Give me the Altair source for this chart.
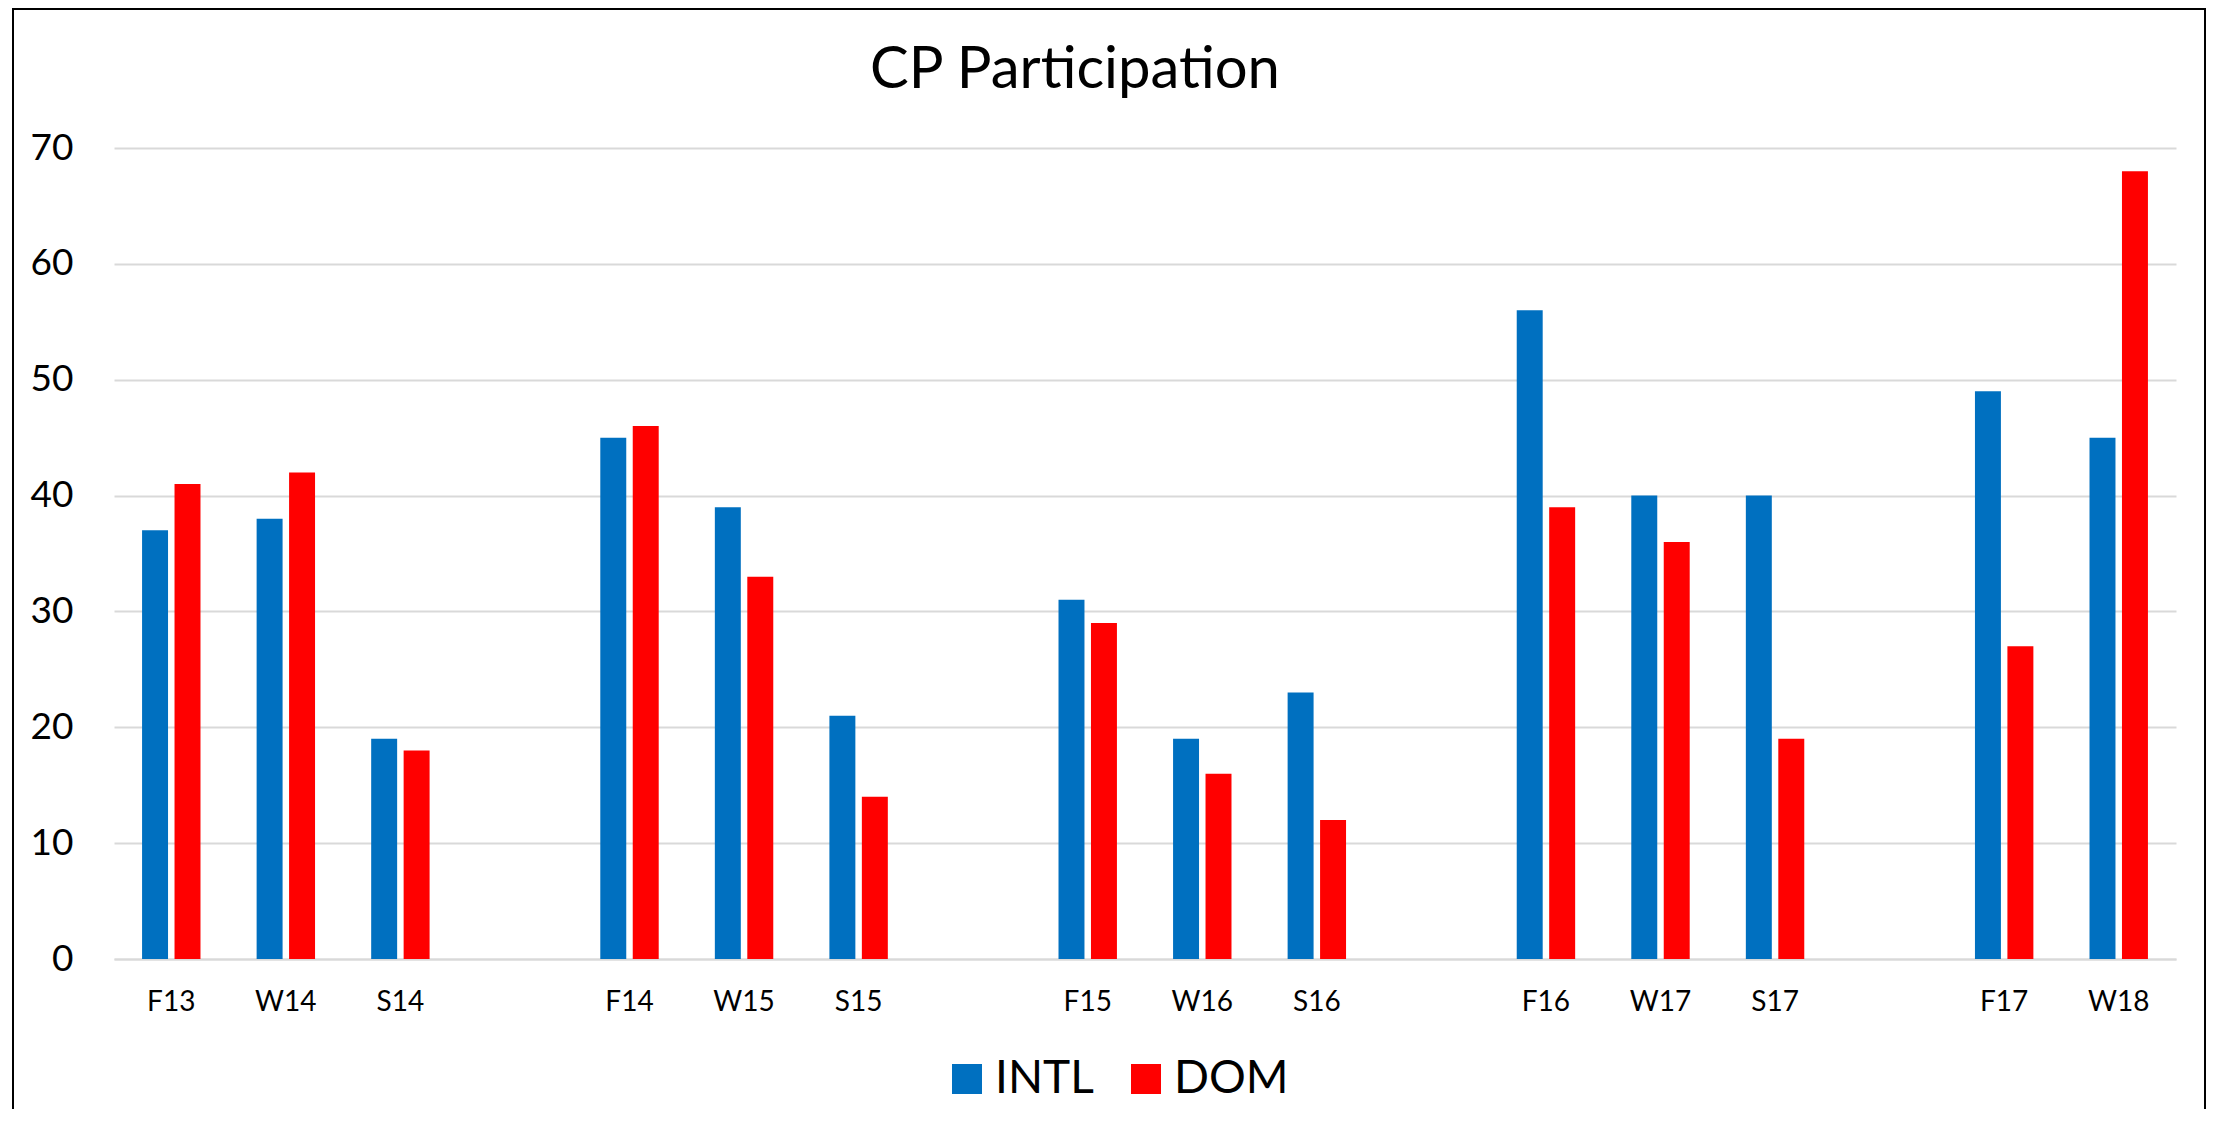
import altair as alt
import pandas as pd

# ---- data ----
terms = ["F13", "W14", "S14", "F14", "W15", "S15", "F15", "W16", "S16",
         "F16", "W17", "S17", "F17", "W18"]
intl = [37, 38, 19, 45, 39, 21, 31, 19, 23, 56, 40, 40, 49, 45]
dom = [41, 42, 18, 46, 33, 14, 29, 16, 12, 39, 36, 19, 27, 68]
# category slots on the axis (empty slots separate the academic years)
slots = ["F13", "W14", "S14", "gap1", "F14", "W15", "S15", "gap2",
         "F15", "W16", "S16", "gap3", "F16", "W17", "S17", "gap4",
         "F17", "W18"]
series = ["INTL", "DOM"]
colors = ["#0070C0", "#FF0000"]
y_ticks = [0, 10, 20, 30, 40, 50, 60, 70]
title_text = "CP Participation"

rows = []
for t, a, b in zip(terms, intl, dom):
    rows.append({"term": t, "group": "INTL", "value": a})
    rows.append({"term": t, "group": "DOM", "value": b})
df = pd.DataFrame(rows)

W, H = 2062, 811
FONT = "Lato"

bars = alt.Chart(df).mark_bar().encode(
    x=alt.X("term:N", sort=slots,
            scale=alt.Scale(domain=slots, paddingInner=0.49, paddingOuter=0.245),
            axis=alt.Axis(title=None, labelAngle=0, labelFontSize=28, labelFont=FONT,
                          labelColor="black", ticks=False, tickSize=0, labelPadding=29,
                          domainColor="#d9d9d9", domainWidth=2,
                          labelExpr="indexof(datum.label, 'gap') == 0 ? '' : datum.label")),
    xOffset=alt.XOffset("group:N", sort=series,
                        scale=alt.Scale(domain=series, paddingInner=0.2, paddingOuter=0)),
    y=alt.Y("value:Q", scale=alt.Scale(domain=[0, 70]),
            axis=alt.Axis(title=None, values=y_ticks, labelFontSize=37, labelFont=FONT,
                          labelColor="black", ticks=False, domain=False, labelPadding=41,
                          gridColor="#d9d9d9", gridWidth=2)),
    color=alt.Color("group:N", sort=series,
                    scale=alt.Scale(domain=series, range=colors),
                    legend=alt.Legend(title=None, orient="none", direction="horizontal",
                                      legendX=830, legendY=908, symbolType="square",
                                      symbolSize=900, symbolStrokeWidth=0,
                                      labelFontSize=46, labelFont=FONT, labelColor="black",
                                      labelOffset=5, columnPadding=29, padding=0)),
)

one = pd.DataFrame({"k": [0]})
border = alt.Chart(one).mark_rect(fill=None, stroke="black", strokeWidth=2).encode(
    x=alt.value(-101), x2=alt.value(2091), y=alt.value(-139), y2=alt.value(1000))
title = alt.Chart(one).mark_text(fontSize=58, font=FONT, color="black",
                                 align="center", baseline="alphabetic").encode(
    x=alt.value(961), y=alt.value(-60), text=alt.value(title_text))

chart = alt.layer(bars, border, title).properties(
    width=W, height=H,
    autosize=alt.AutoSizeParams(type="none"),
    padding={"left": 106, "top": 140, "right": 32, "bottom": 150},
).configure(background="white", view=alt.ViewConfig(stroke=None))

chart.save("out.html", embed_options={"renderer": "svg", "actions": False})
